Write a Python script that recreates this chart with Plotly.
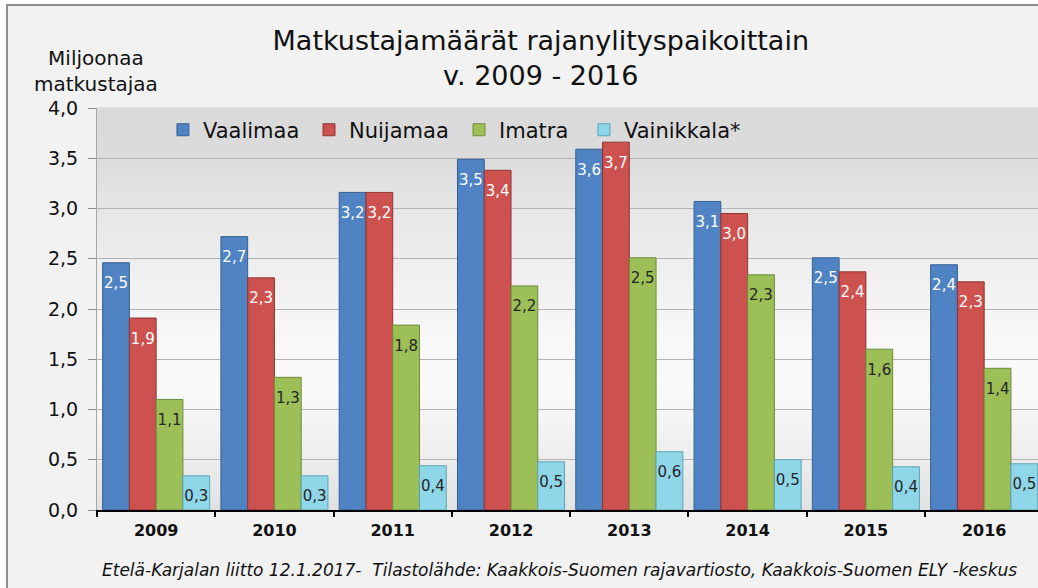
import plotly.graph_objects as go

years = ["2009", "2010", "2011", "2012", "2013", "2014", "2015", "2016"]
series_names = ["Vaalimaa", "Nuijamaa", "Imatra", "Vainikkala*"]
vaalimaa = [2.46, 2.72, 3.16, 3.49, 3.59, 3.07, 2.51, 2.44]
nuijamaa = [1.91, 2.31, 3.16, 3.38, 3.66, 2.95, 2.37, 2.27]
imatra = [1.10, 1.32, 1.84, 2.23, 2.51, 2.34, 1.60, 1.41]
vainikkala = [0.34, 0.34, 0.44, 0.48, 0.58, 0.50, 0.43, 0.46]
values = [vaalimaa, nuijamaa, imatra, vainikkala]

fill_colors = ["#4f83c4", "#cd514e", "#9cbf58", "#8fd6e8"]
line_colors = ["#365f91", "#8e3633", "#6e8c3a", "#5aa6bb"]
text_colors = ["#ffffff", "#ffffff", "#262626", "#262626"]
legend_ids = ["legend", "legend2", "legend3", "legend4"]
legend_x = [0.0701, 0.2253, 0.3847, 0.5175]

title_text = "Matkustajamäärät rajanylityspaikoittain<br>v. 2009 - 2016"
y_title = "Miljoonaa<br>matkustajaa"
footer = "Etelä-Karjalan liitto 12.1.2017-  Tilastolähde: Kaakkois-Suomen rajavartiosto, Kaakkois-Suomen ELY -keskus"

FONT = "DejaVu Sans"

fig = go.Figure()
for name, vals, fc, lc, tc, lg in zip(series_names, values, fill_colors, line_colors,
                                       text_colors, legend_ids):
    fig.add_trace(go.Bar(
        x=years, y=vals, name=name, legend=lg, showlegend=True,
        marker=dict(color=fc, line=dict(color=lc, width=1)),
        texttemplate='<span style="font-size:3px">&nbsp;</span><br>%{y:.1f}',
        textposition="inside", insidetextanchor="end",
        constraintext="none", cliponaxis=False,
        textfont=dict(family=FONT, size=15, color=tc),
        hoverinfo="skip",
    ))

# plot-area background gradient (decoration)
def hex2rgb(h):
    h = h.lstrip("#")
    return [int(h[i:i + 2], 16) for i in (0, 2, 4)]

stops = [(0.0, "#e1e1e1"), (0.12, "#ececec"), (0.3, "#fafafa"), (0.45, "#f7f7f7"),
         (0.7, "#e9e9e9"), (0.87, "#dcdcdc"), (1.0, "#d9d9d9")]
shapes = [dict(type="rect", xref="paper", yref="paper", x0=-0.0956, x1=1.2, y0=-0.4, y1=1.2562,
               fillcolor="#f2f2f2", line=dict(color="#8c8c8c", width=2), layer="below")]
N = 80
for i in range(N):
    t = (i + 0.5) / N
    for (p0, c0), (p1, c1) in zip(stops[:-1], stops[1:]):
        if p0 <= t <= p1:
            f = (t - p0) / (p1 - p0)
            a, b = hex2rgb(c0), hex2rgb(c1)
            col = "rgb(%d,%d,%d)" % tuple(round(a[k] + (b[k] - a[k]) * f) for k in range(3))
            break
    shapes.append(dict(type="rect", xref="paper", yref="paper", x0=0, x1=1,
                       y0=i / N, y1=(i + 1) / N + 0.002, fillcolor=col, line=dict(width=0),
                       layer="below"))

legend_style = dict(orientation="h", xanchor="left", y=0.945, yanchor="middle", visible=True,
                    bgcolor="rgba(0,0,0,0)", font=dict(family=FONT, size=21, color="#111111"))
legends = {lg: dict(legend_style, x=lx) for lg, lx in zip(legend_ids, legend_x)}

fig.update_layout(
    width=1038, height=588,
    margin=dict(l=97, r=0, t=108, b=78),
    paper_bgcolor="#ffffff", plot_bgcolor="rgba(0,0,0,0)",
    separators=",.",
    showlegend=True,
    barmode="group", bargap=0.095, bargroupgap=0,
    font=dict(family=FONT, color="#1a1a1a"),
    title=dict(text=title_text, x=0.521, xanchor="center", y=0.915, yanchor="middle",
               font=dict(family=FONT, size=27, color="#111111")),
    shapes=shapes,
    xaxis=dict(type="category", range=[-0.5, 7.455], showline=True, linecolor="#000000",
               linewidth=2, ticks="outside", tickson="boundaries", ticklen=5, tickwidth=2,
               tickcolor="#000000", showgrid=False, ticklabelstandoff=5,
               tickfont=dict(family=FONT, size=16, color="#111111", weight="bold")),
    yaxis=dict(range=[0, 4.0], dtick=0.5, tickformat=".1f", showline=True, linecolor="#a6a6a6",
               linewidth=1, ticks="outside", ticklen=8, tickcolor="#8c8c8c", showgrid=True,
               gridcolor="#b4b4b4", gridwidth=1, zeroline=False, ticklabelstandoff=6,
               tickfont=dict(family=FONT, size=19, color="#111111")),
    annotations=[
        dict(text=y_title, xref="paper", yref="paper", x=-0.001, y=1.092, xanchor="center",
             yanchor="middle", showarrow=False, font=dict(family=FONT, size=20, color="#111111")),
        dict(text=footer, xref="paper", yref="paper", x=0.492, y=-0.149, xanchor="center",
             yanchor="middle", showarrow=False,
             font=dict(family=FONT, size=17, color="#111111", style="italic")),
    ],
    **legends,
)

fig.write_html(
    "out.html",
    config={"displayModeBar": False},
    post_script="document.body.style.margin='0';document.body.style.overflow='hidden';",
)
